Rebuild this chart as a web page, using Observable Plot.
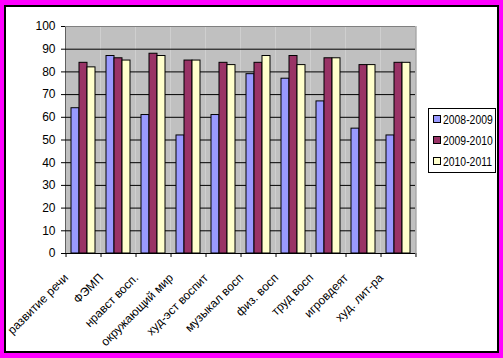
<!DOCTYPE html>
<html>
<head>
<meta charset="utf-8">
<script src="https://cdn.jsdelivr.net/npm/d3@7"></script>
<script src="https://cdn.jsdelivr.net/npm/@observablehq/plot@0.6"></script>
<style>
  body { margin: 0; }
  #wrap { position: relative; width: 503px; height: 358px; background: #ff00ff; overflow: hidden; }
  #inner { position: absolute; left: 4px; top: 5px; width: 495px; height: 348px; box-sizing: border-box; border: 2px solid #000; background: #fff; }
  #chart { position: absolute; left: 0; top: 0; }
  #legend { position: absolute; left: 428px; top: 108px; width: 68px; height: 65px; box-sizing: border-box; border: 1px solid #000; background: #fff; font-family: Arial, 'Liberation Sans', sans-serif; font-size: 13px; }
  .item { position: absolute; left: 4px; height: 16px; line-height: 16px; white-space: nowrap; }
  .sw { display: inline-block; width: 6px; height: 6px; border: 1px solid #000; margin-right: 2px; vertical-align: 1px; }
  .lbl { display: inline-block; transform: scaleX(0.8); transform-origin: left center; }
</style>
</head>
<body>
<div id="wrap">
  <div id="inner"></div>
  <div id="chart"></div>
  <div id="legend"></div>
</div>
<script>
const categories = ["развитие речи", "ФЭМП", "нравст восп.", "окружающий мир", "худ-эст воспит", "музыкал восп", "физ. восп", "труд восп", "игровдеят", "худ. лит-ра"];
const series = ["2008-2009", "2009-2010", "2010-2011"];
const values2008 = [64, 87, 61, 52, 61, 79, 77, 67, 55, 52];
const values2009 = [84, 86, 88, 85, 84, 84, 87, 86, 83, 84];
const values2010 = [82, 85, 87, 85, 83, 87, 83, 86, 83, 84];
const yTicks = [0, 10, 20, 30, 40, 50, 60, 70, 80, 90, 100];
const colors = ["#9999ff", "#993366", "#ffffcc"];

const seriesValues = [values2008, values2009, values2010];
const data = categories.flatMap((c, i) => series.map((s, j) => ({cat: c, s, v: seriesValues[j][i]})));

const W = 503, H = 358, mL = 62, mR = 85, mT = 26, mB = 105;
const padOuter = 0.64;
const groupStep = (W - mL - mR) / categories.length;
const innerStep = groupStep / (series.length + 2 * padOuter);
const edge = (padOuter + 0.5) * innerStep;
const tickDown = 4 * 100 / (H - mT - mB);
const last = categories[categories.length - 1];

const chart = Plot.plot({
  width: W, height: H,
  marginLeft: mL, marginRight: mR, marginTop: mT, marginBottom: mB,
  style: {background: "transparent", fontFamily: "Arial, 'Liberation Sans', sans-serif", fontSize: "12px", color: "#000"},
  fx: {domain: categories, padding: 0, axis: null},
  x: {domain: series, paddingInner: 0, paddingOuter: padOuter, axis: null},
  y: {domain: [0, 100], ticks: yTicks, tickSize: 4, tickPadding: 6, label: null, line: true},
  color: {domain: series, range: colors},
  marks: [
    Plot.frame({fill: "#c0c0c0", stroke: "none"}),
    Plot.ruleY(yTicks.filter(d => d > 0 && d < 100), {stroke: "#000"}),
    Plot.ruleY([100], {stroke: "#808080"}),
    Plot.barY(data, {fx: "cat", x: "s", y: "v", fill: "s", stroke: "#000", strokeWidth: 1}),
    Plot.ruleY([0], {stroke: "#000"}),
    Plot.ruleX(categories, {fx: d => d, x: () => series[0], dx: -edge, y1: 0, y2: -tickDown, stroke: "#000"}),
    Plot.ruleX([last], {fx: d => d, x: () => series[2], dx: edge, y1: 0, y2: -tickDown, stroke: "#000"}),
    Plot.ruleX([last], {fx: d => d, x: () => series[2], dx: edge, y1: 0, y2: 100, stroke: "#808080"}),
    Plot.text(categories, {fx: d => d, text: d => d, frameAnchor: "bottom", rotate: -45, textAnchor: "end", dx: -14, dy: 25, fontSize: 12})
  ]
});
document.getElementById("chart").appendChild(chart);

const legend = document.getElementById("legend");
series.forEach((s, i) => {
  const row = document.createElement("div");
  row.className = "item";
  row.style.top = (3 + i * 21) + "px";
  const sw = document.createElement("span");
  sw.className = "sw";
  sw.style.background = colors[i];
  row.appendChild(sw);
  const t = document.createElement("span");
  t.className = "lbl";
  t.textContent = s;
  row.appendChild(t);
  legend.appendChild(row);
});
</script>
</body>
</html>
